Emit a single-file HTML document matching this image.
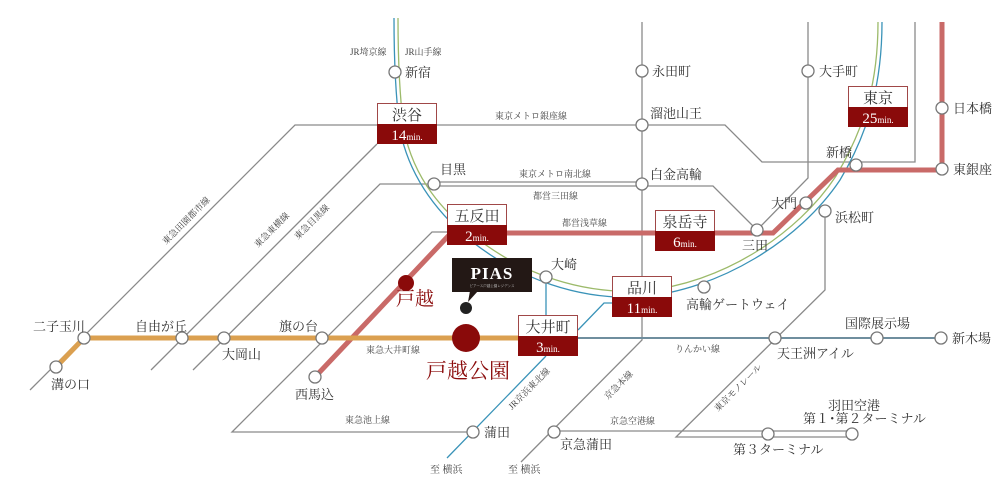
<!DOCTYPE html>
<html><head><meta charset="utf-8"><style>
body{margin:0;background:#fff;}
svg{display:block;font-family:"Liberation Serif","Noto Serif CJK SC",serif;}
.t{font-size:13px;fill:#333;}
.s{font-size:9px;fill:#444;}
.g{fill:none;stroke:#8a8a8a;stroke-width:1.3;}
.st{fill:#fff;stroke:#777;stroke-width:1.3;}
</style></head><body>
<svg width="1000" height="480" viewBox="0 0 1000 480" xmlns="http://www.w3.org/2000/svg">
<!-- gray lines -->
<path class="g" d="M395 125 H295 L30 390"/>
<path class="g" d="M436 125 H725 L762 162 H915 V22"/>
<path class="g" d="M377 144 L151 370"/>
<path class="g" d="M434 184 H380 L193 370"/>
<path class="g" d="M434 182 H642"/>
<path class="g" d="M434 186 H713 L757 230"/>
<path class="g" d="M757 230 L808 178 V22"/>
<path class="g" d="M642 22 V340 L521 462"/>
<path class="g" d="M447 232 H432 L232 432 H473"/>
<path class="g" d="M554 431 H852"/>
<path class="g" d="M825 211 V290 L676 437 H852"/>
<!-- JR lines -->
<path d="M394 18 C394 60 396 100 400 130 C410 180 440 215 470 240 C520 280 580 300 640 297 C720 290 800 240 840 180 C870 130 882 80 882 22" fill="none" stroke="#3a93b8" stroke-width="1.3"/>
<path d="M398 18 C398 60 400 100 404 130 C414 180 444 212 474 236 C524 276 584 294 642 291 C722 284 798 234 836 176 C866 126 878 80 878 22" fill="none" stroke="#9cba6a" stroke-width="1.3"/>
<path d="M546 277 V315 M546 356 L447 458 M578 330 L604 303 H612" fill="none" stroke="#3a93b8" stroke-width="1.3"/>
<!-- rinkai -->
<path d="M577 338 H941" stroke="#6f8e9e" stroke-width="2" fill="none"/>
<!-- asakusa -->
<path d="M315 377 L452 232 M507 233 H773 L838 170 H942 V22" fill="none" stroke="#c96a68" stroke-width="5"/>
<!-- oimachi -->
<path d="M56 367 L84 338 H518" fill="none" stroke="#dba050" stroke-width="5"/>
<!-- stations -->
<g class="st">
<circle cx="395" cy="72" r="6"/><circle cx="642" cy="71" r="6"/><circle cx="808" cy="71" r="6"/><circle cx="942" cy="108" r="6"/>
<circle cx="642" cy="125" r="6"/><circle cx="642" cy="184" r="6"/><circle cx="434" cy="184" r="6"/><circle cx="856" cy="165" r="6"/>
<circle cx="942" cy="169" r="6"/><circle cx="806" cy="203" r="6"/><circle cx="825" cy="211" r="6"/><circle cx="757" cy="230" r="6"/>
<circle cx="546" cy="277" r="6"/><circle cx="704" cy="287" r="6"/><circle cx="775" cy="338" r="6"/><circle cx="877" cy="338" r="6"/>
<circle cx="941" cy="338" r="6"/><circle cx="84" cy="338" r="6"/><circle cx="56" cy="367" r="6"/><circle cx="182" cy="338" r="6"/>
<circle cx="224" cy="338" r="6"/><circle cx="322" cy="338" r="6"/><circle cx="315" cy="377" r="6"/><circle cx="473" cy="432" r="6"/>
<circle cx="554" cy="432" r="6"/><circle cx="768" cy="434" r="6"/><circle cx="852" cy="434" r="6"/>
</g>
<circle cx="406" cy="283" r="8" fill="#8a0a0a"/>
<circle cx="466" cy="338" r="14" fill="#8a0a0a"/>
<circle cx="466" cy="308" r="6" fill="#222"/>
<!-- PIAS -->
<rect x="452" y="258" width="80" height="34" fill="#231815"/>
<path d="M470 291 L468 302 L478 291Z" fill="#231815"/>
<text x="492" y="279" text-anchor="middle" fill="#fff" font-size="17" font-weight="bold" letter-spacing="1">PIAS</text>
<text x="492" y="287" text-anchor="middle" fill="#ccc" font-size="3.5">ピアース戸越公園レジデンス</text>
<!-- boxes -->
<g font-size="15">
<g transform="translate(377,103)"><rect x="0.5" y="0.5" width="59" height="40" fill="#fff" stroke="#a04848"/><rect x="0" y="21" width="60" height="20" fill="#8a0a0a"/><text x="30" y="17" text-anchor="middle" fill="#333">渋谷</text><text x="30" y="37" text-anchor="middle" fill="#fff">14<tspan font-size="9">min.</tspan></text></g>
<g transform="translate(447,204)"><rect x="0.5" y="0.5" width="59" height="40" fill="#fff" stroke="#a04848"/><rect x="0" y="21" width="60" height="20" fill="#8a0a0a"/><text x="30" y="17" text-anchor="middle" fill="#333">五反田</text><text x="30" y="37" text-anchor="middle" fill="#fff">2<tspan font-size="9">min.</tspan></text></g>
<g transform="translate(655,210)"><rect x="0.5" y="0.5" width="59" height="40" fill="#fff" stroke="#a04848"/><rect x="0" y="21" width="60" height="20" fill="#8a0a0a"/><text x="30" y="17" text-anchor="middle" fill="#333">泉岳寺</text><text x="30" y="37" text-anchor="middle" fill="#fff">6<tspan font-size="9">min.</tspan></text></g>
<g transform="translate(612,276)"><rect x="0.5" y="0.5" width="59" height="40" fill="#fff" stroke="#a04848"/><rect x="0" y="21" width="60" height="20" fill="#8a0a0a"/><text x="30" y="17" text-anchor="middle" fill="#333">品川</text><text x="30" y="37" text-anchor="middle" fill="#fff">11<tspan font-size="9">min.</tspan></text></g>
<g transform="translate(518,315)"><rect x="0.5" y="0.5" width="59" height="40" fill="#fff" stroke="#a04848"/><rect x="0" y="21" width="60" height="20" fill="#8a0a0a"/><text x="30" y="17" text-anchor="middle" fill="#333">大井町</text><text x="30" y="37" text-anchor="middle" fill="#fff">3<tspan font-size="9">min.</tspan></text></g>
<g transform="translate(848,86)"><rect x="0.5" y="0.5" width="59" height="40" fill="#fff" stroke="#a04848"/><rect x="0" y="21" width="60" height="20" fill="#8a0a0a"/><text x="30" y="17" text-anchor="middle" fill="#333">東京</text><text x="30" y="37" text-anchor="middle" fill="#fff">25<tspan font-size="9">min.</tspan></text></g>
</g>
<!-- labels -->
<g class="t">
<text x="405" y="77">新宿</text><text x="652" y="76">永田町</text><text x="819" y="76">大手町</text><text x="953" y="113">日本橋</text>
<text x="650" y="118">溜池山王</text><text x="826" y="157">新橋</text><text x="953" y="174">東銀座</text><text x="650" y="179">白金高輪</text>
<text x="440" y="174">目黒</text><text x="771" y="208">大門</text><text x="835" y="222">浜松町</text><text x="742" y="250">三田</text>
<text x="551" y="269">大崎</text><text x="686" y="309">高輪ゲートウェイ</text><text x="845" y="328">国際展示場</text><text x="952" y="343">新木場</text>
<text x="777" y="358">天王洲アイル</text><text x="828" y="410">羽田空港</text><text x="803" y="423">第１･第２ターミナル</text>
<text x="733" y="454">第３ターミナル</text><text x="560" y="449">京急蒲田</text><text x="484" y="437">蒲田</text>
<text x="295" y="399">西馬込</text><text x="279" y="331">旗の台</text><text x="222" y="359">大岡山</text>
<text x="135" y="331">自由が丘</text><text x="33" y="331">二子玉川</text><text x="51" y="389">溝の口</text>
</g>
<text x="396" y="305" font-size="19" fill="#8a0a0a" font-family="Liberation Serif,Noto Serif CJK SC,serif">戸越</text>
<text x="426" y="378" font-size="21" fill="#8a0a0a">戸越公園</text>
<g class="s">
<text x="350" y="55">JR埼京線</text><text x="405" y="55">JR山手線</text><text x="495" y="119">東京メトロ銀座線</text>
<text x="519" y="177">東京メトロ南北線</text><text x="533" y="199">都営三田線</text><text x="562" y="226">都営浅草線</text>
<text x="675" y="352">りんかい線</text><text x="610" y="424">京急空港線</text><text x="345" y="423">東急池上線</text>
<text x="366" y="353">東急大井町線</text><text x="430" y="473" font-size="10">至 横浜</text><text x="508" y="473" font-size="10">至 横浜</text>
<text transform="translate(166,245) rotate(-45)">東急田園都市線</text>
<text transform="translate(258,248) rotate(-45)">東急東横線</text>
<text transform="translate(298,240) rotate(-45)">東急目黒線</text>
<text transform="translate(512,410) rotate(-45)">JR京浜東北線</text>
<text transform="translate(608,400) rotate(-45)">京急本線</text>
<text transform="translate(718,412) rotate(-45)">東京モノレール</text>
</g>
</svg>
</body></html>
